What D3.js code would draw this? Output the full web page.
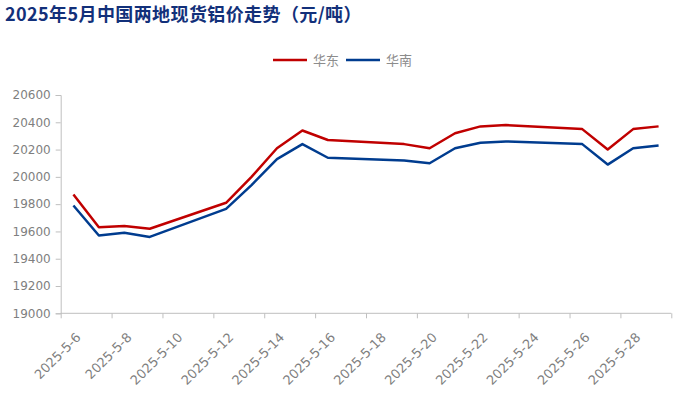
<!DOCTYPE html>
<html><head><meta charset="utf-8">
<script src="https://cdn.jsdelivr.net/npm/d3@7"></script>
<style>body{margin:0;background:#fff}svg{display:block}</style>
</head><body>
<script>
const title = "2025年5月中国两地现货铝价走势（元/吨）";
const seriesNames = ["华东", "华南"];
const dates = ["2025-5-6","2025-5-7","2025-5-8","2025-5-9","2025-5-12","2025-5-13","2025-5-14","2025-5-15","2025-5-16","2025-5-19","2025-5-20","2025-5-21","2025-5-22","2025-5-23","2025-5-26","2025-5-27","2025-5-28","2025-5-29"];
const eastValues  = [19870,19630,19640,19620,19810,20000,20210,20340,20270,20240,20210,20320,20370,20380,20350,20200,20350,20370];
const southValues = [19790,19570,19590,19560,19765,19940,20130,20240,20140,20120,20100,20210,20250,20260,20240,20090,20210,20230];
const yTicks = [19000,19200,19400,19600,19800,20000,20200,20400,20600];
const colors = ["#C00000", "#003C8F"];

const W = 690, H = 393;
const parse = s => { const [y,m,d] = s.split("-").map(Number); return new Date(y, m-1, d); };
const dayStart = new Date(2025,4,6), dayEnd = new Date(2025,4,30);
const svg = d3.select("body").append("svg").attr("width", W).attr("height", H);

const x = d3.scaleTime().domain([dayStart, dayEnd]).range([60.7, 671.3]);
const y = d3.scaleLinear().domain([19000, 20600]).range([313.3, 95]);
const center = d => new Date(d.getFullYear(), d.getMonth(), d.getDate(), 12);

// title
svg.append("text").attr("x", 5).attr("y", 21).text(title)
  .attr("font-family", "'Noto Sans CJK SC', sans-serif").attr("font-weight", "bold")
  .attr("font-size", 18).attr("letter-spacing", 0.4).attr("fill", "#12307A");

// axes
const axisColor = "#BFBFBF";
const yAxis = svg.append("g").attr("transform", "translate(60.7,0)")
  .call(d3.axisLeft(y).tickValues(yTicks).tickSize(5).tickPadding(5).tickFormat(d3.format("d")));
yAxis.selectAll("path,line").attr("stroke", axisColor);
yAxis.selectAll("text").attr("fill", "#7F7F7F").attr("font-size", 12).attr("font-family", "'DejaVu Sans', sans-serif");

const tickDates = d3.timeDay.range(dayStart, new Date(2025,4,31), 2);
const xAxis = svg.append("g").attr("transform", "translate(0,313.3)")
  .call(d3.axisBottom(x).tickValues(tickDates).tickSize(5).tickFormat(""));
xAxis.selectAll("path,line").attr("stroke", axisColor);
xAxis.select("path").attr("d", "M60.7,0H671.3");

const labelDates = d3.timeDay.range(dayStart, new Date(2025,4,29), 2);
svg.append("g").selectAll("text").data(labelDates).join("text")
  .attr("transform", d => `translate(${x(center(d)) + 5},335) rotate(-45)`)
  .attr("text-anchor", "end").attr("dy", "0.35em")
  .attr("fill", "#7F7F7F").attr("font-size", 13).attr("font-family", "'DejaVu Sans', sans-serif")
  .text(d => `${d.getFullYear()}-${d.getMonth()+1}-${d.getDate()}`);

// lines
const line = d3.line().x(d => x(center(parse(d.date)))).y(d => y(d.value));
[eastValues, southValues].forEach((vals, i) => {
  svg.append("path").datum(dates.map((dt, j) => ({date: dt, value: vals[j]})))
    .attr("d", line).attr("fill", "none").attr("stroke", colors[i]).attr("stroke-width", 2.5)
    .attr("stroke-linejoin", "round");
});

// legend
const legendItems = [{x: 273, tx: 313}, {x: 346, tx: 386}];
legendItems.forEach((it, i) => {
  svg.append("line").attr("x1", it.x).attr("x2", it.x + 34).attr("y1", 60).attr("y2", 60)
    .attr("stroke", colors[i]).attr("stroke-width", 2.5);
  svg.append("text").attr("x", it.tx).attr("y", 60).attr("dy", "0.35em").text(seriesNames[i])
    .attr("fill", "#8C8C8C").attr("font-size", 13).attr("font-family", "'Noto Sans CJK SC', sans-serif");
});
</script>
</body></html>
